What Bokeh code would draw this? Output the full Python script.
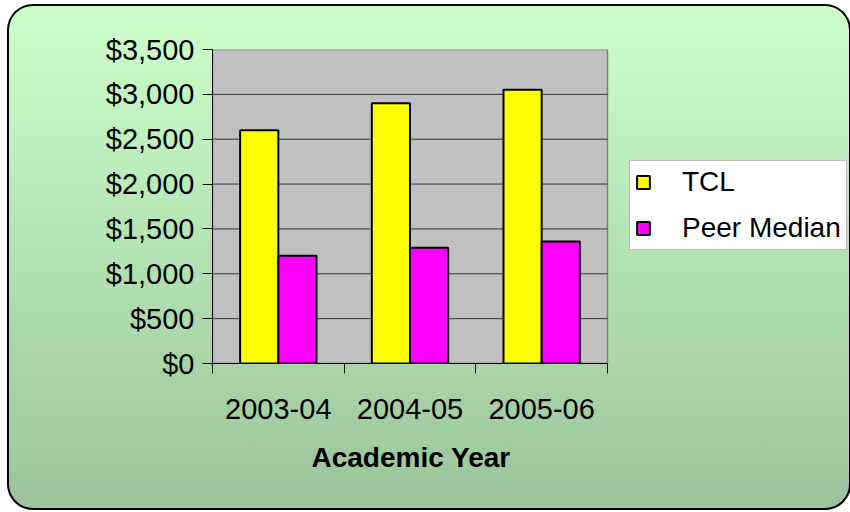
from bokeh.plotting import figure
from bokeh.models import ColumnDataSource, Range1d, FixedTicker, NumeralTickFormatter, Legend, LegendItem, Title
from bokeh.transform import dodge
from bokeh.embed import file_html
from bokeh.resources import INLINE

years = ["2003-04", "2004-05", "2005-06"]
tcl = [2600, 2900, 3050]
peer_median = [1200, 1290, 1360]
series_names = ["TCL", "Peer Median"]
y_ticks = [0, 500, 1000, 1500, 2000, 2500, 3000, 3500]
x_title = "Academic Year"

FONT = "Liberation Sans"
OX, OY = 7, 4          # offset of the rounded panel in the window
W, H = 844, 506
PL, PR, PT, PB = 212, 607, 49, 363      # plot area in window pixels
FL, FT, FB = PL - OX, PT - OY, PB - OY

n = len(years)
ymax = y_ticks[-1]
x_end = n * (W - FL) / (PR - PL)       # frame extends to the right edge; plot area covers 0..n

pos = [i + 0.5 for i in range(n)]
src = ColumnDataSource(dict(x=pos, tcl=tcl, peer=peer_median))

p = figure(width=W, height=H, output_backend="svg", toolbar_location=None,
           x_range=Range1d(0, x_end), y_range=Range1d(0, ymax),
           min_border_left=FL, min_border_right=0,
           min_border_top=FT, min_border_bottom=H - FB)
p.styles = {
    "margin-left": f"{OX}px", "margin-top": f"{OY}px",
    "background": "linear-gradient(to bottom, #CCFFCC 0%, #B5E5B5 45%, #9BC39B 100%)",
    "border-radius": "26px",
    "box-shadow": "inset 0 0 0 2px #000000",
}
p.border_fill_color = None
p.background_fill_color = None
p.outline_line_color = None

# gray plot area
p.quad(left=[0], right=[n], bottom=[0], top=[ymax],
       fill_color="#C0C0C0", line_color="#808080", line_width=1.5)
# horizontal grid lines across the plot area
grid_y = y_ticks[1:-1]
p.segment(x0=[0] * len(grid_y), x1=[n] * len(grid_y), y0=grid_y, y1=grid_y,
          line_color="#333333", line_width=1)

bw = 0.29
r1 = p.vbar(x=dodge("x", -bw / 2, range=p.x_range), top="tcl", width=bw, source=src,
            fill_color="#FFFF00", line_color="black", line_width=2)
r2 = p.vbar(x=dodge("x", bw / 2, range=p.x_range), top="peer", width=bw, source=src,
            fill_color="#FF00FF", line_color="black", line_width=2)

# y axis
yax = p.yaxis[0]
yax.ticker = FixedTicker(ticks=y_ticks)
yax.formatter = NumeralTickFormatter(format="$0,0")
yax.major_label_text_font = FONT
yax.major_label_text_font_size = "29px"
yax.major_label_text_color = "black"
yax.major_tick_in = 0
yax.major_tick_out = 10
yax.minor_tick_line_color = None
yax.axis_line_color = "black"
yax.major_tick_line_color = "black"
yax.major_label_standoff = 8

# x axis
xax = p.xaxis[0]
xax.bounds = (0, n)
xax.ticker = FixedTicker(ticks=pos, minor_ticks=list(range(n + 1)))
xax.major_label_overrides = {pv: y for pv, y in zip(pos, years)}
xax.major_tick_line_color = None
xax.major_tick_in = 0
xax.major_tick_out = 0
xax.minor_tick_in = 0
xax.minor_tick_out = 10
xax.minor_tick_line_color = "black"
xax.axis_line_color = "black"
xax.major_label_text_font = FONT
xax.major_label_text_font_size = "29px"
xax.major_label_text_color = "black"
xax.major_label_standoff = 25

p.xgrid.grid_line_color = None
p.ygrid.grid_line_color = None

# axis title, centred under the plot area (not the whole frame)
p.add_layout(Title(text=x_title, align="left", offset=311 - PL,
                   text_font=FONT, text_font_size="28px", text_font_style="bold",
                   text_color="black", standoff=37), "below")

legend = Legend(items=[LegendItem(label=series_names[0], renderers=[r1]),
                       LegendItem(label=series_names[1], renderers=[r2])],
                location=(629 - PL, PB - 250))
legend.label_text_font = FONT
legend.label_text_font_size = "28px"
legend.label_text_color = "black"
legend.glyph_width = 16
legend.glyph_height = 16
legend.label_standoff = 31
legend.padding = 5
legend.spacing = 14
legend.margin = 0
legend.border_line_color = "#808080"
legend.border_line_width = 1
legend.background_fill_color = "white"
legend.background_fill_alpha = 1
p.add_layout(legend, "center")

open("out.html", "w").write(file_html(p, INLINE))
